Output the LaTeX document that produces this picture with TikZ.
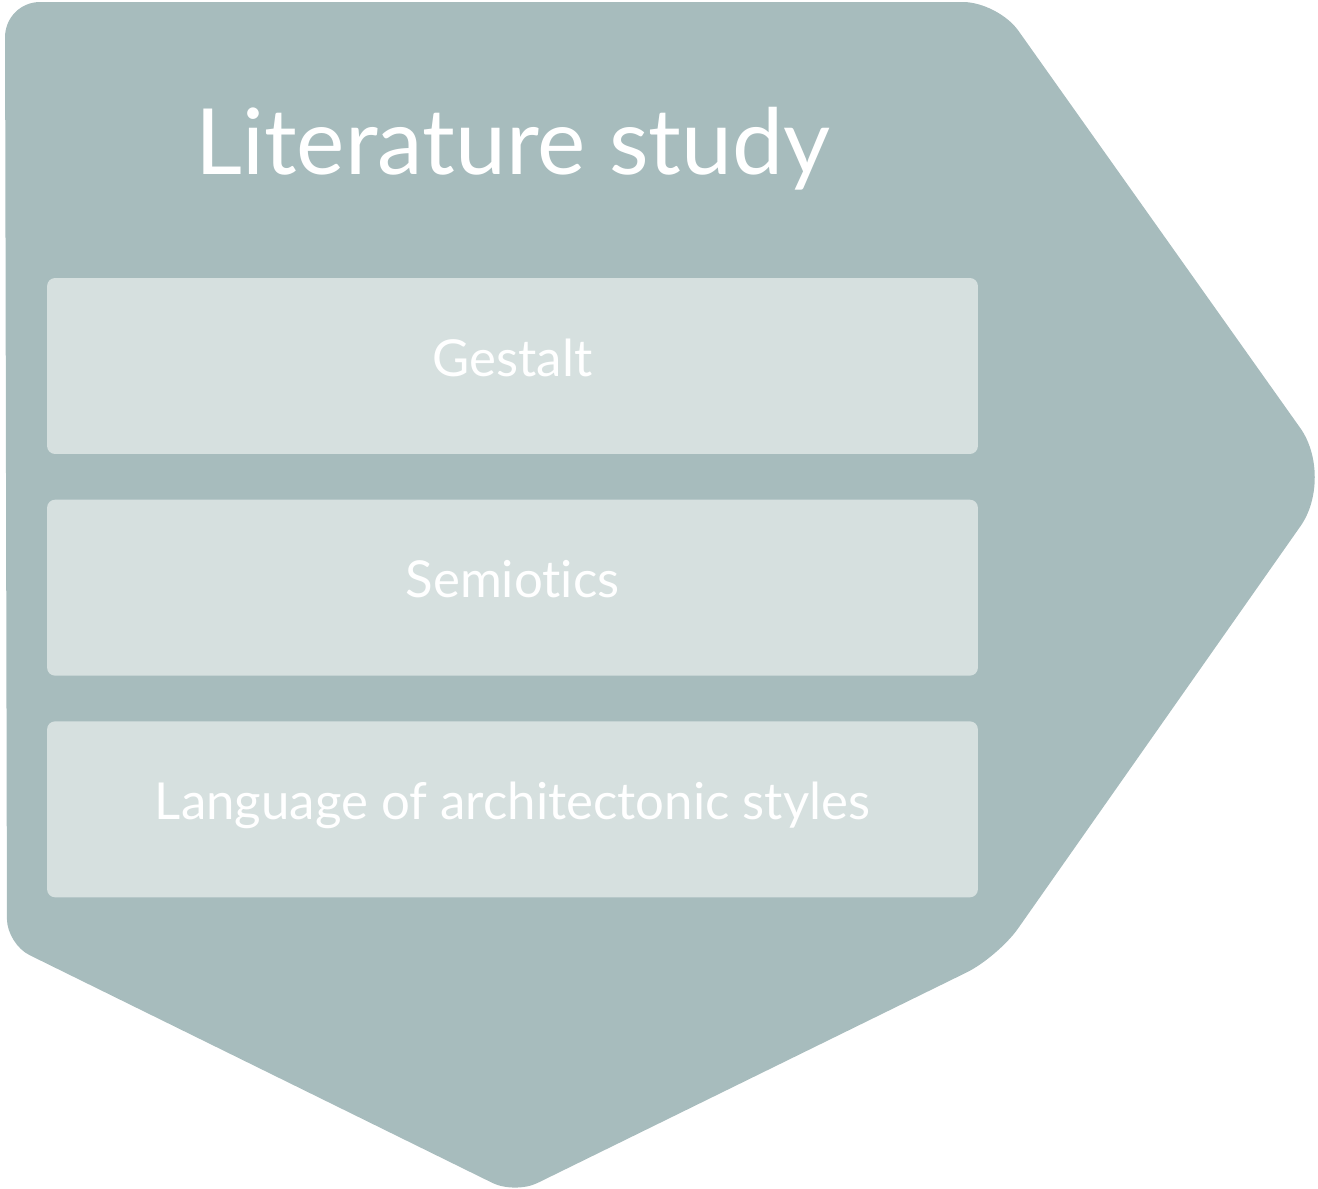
\documentclass[tikz,border=0pt]{standalone}
\usepackage{fontspec}
\setmainfont{Lato}[Ligatures={NoCommon,NoContextual}]
\usetikzlibrary{positioning}

\begin{document}
\begin{tikzpicture}[
    x=0.02cm, y=-0.02cm,
    box/.style={
    	fill=my-light,
    	minimum width=18.62cm,
    	minimum height=3.52cm,
    	rounded corners=0.16cm, inner sep=0pt, align=center,
    	text=white, text height=0.4cm, text depth=0cm,
    	font=\fontsize{29}{34}\selectfont
    }, heading/.style={
    	text=white, inner sep=0pt, anchor=base,
    	font=\fontsize{52}{60}\selectfont
    }]
    \definecolor{my-grey}{RGB}{167, 188, 189}
    \definecolor{my-light}{RGB}{214, 224, 223}

    \useasboundingbox (0,0) rectangle (1318,1188);

    %%% outer arrow shape
    \fill[my-grey, rounded corners=0.7cm] (500,2) -- (998,2)
        [rounded corners=1.2cm] -- (1335,477)
        [rounded corners=0.7cm] -- (998,957)
        [rounded corners=0.5cm] -- (515,1194)
        [rounded corners=0.5cm] -- (7,944)
        [rounded corners=0.7cm] -- (5,2) -- cycle;

    \node[heading] (title) at (513,174) {Literature study};

    %%% topics
    \node[box] (gestalt) at (512.5,366) {Gestalt};
    \node[box, below=0.9cm of gestalt] (semiotics) {Semiotics};
    \node[box, below=0.9cm of semiotics] (language) {Language of architectonic styles};

\end{tikzpicture}
\end{document}
